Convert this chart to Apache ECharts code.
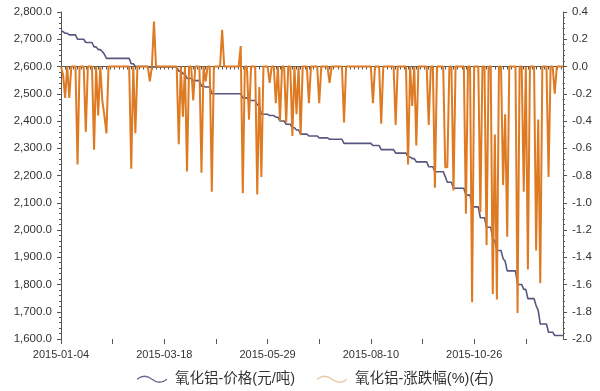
<!DOCTYPE html>
<html>
<head>
<meta charset="utf-8">
<script src="https://cdn.jsdelivr.net/npm/echarts@6/dist/echarts.min.js"></script>
<style>html,body{margin:0;padding:0;background:#fff;}#c{width:600px;height:391px;}</style>
</head>
<body>
<div id="c"></div>
<script>
// Chinese working days 2015-01-04 .. 2015-12-24
const dates = [
'2015-01-04','2015-01-05','2015-01-06','2015-01-07','2015-01-08','2015-01-09','2015-01-12','2015-01-13','2015-01-14','2015-01-15','2015-01-16','2015-01-19','2015-01-20','2015-01-21','2015-01-22','2015-01-23','2015-01-26','2015-01-27','2015-01-28','2015-01-29','2015-01-30',
'2015-02-02','2015-02-03','2015-02-04','2015-02-05','2015-02-06','2015-02-09','2015-02-10','2015-02-11','2015-02-12','2015-02-13','2015-02-15','2015-02-16','2015-02-17','2015-02-25','2015-02-26','2015-02-27','2015-02-28',
'2015-03-02','2015-03-03','2015-03-04','2015-03-05','2015-03-06','2015-03-09','2015-03-10','2015-03-11','2015-03-12','2015-03-13','2015-03-16','2015-03-17','2015-03-18','2015-03-19','2015-03-20','2015-03-23','2015-03-24','2015-03-25','2015-03-26','2015-03-27','2015-03-30','2015-03-31',
'2015-04-01','2015-04-02','2015-04-03','2015-04-07','2015-04-08','2015-04-09','2015-04-10','2015-04-13','2015-04-14','2015-04-15','2015-04-16','2015-04-17','2015-04-20','2015-04-21','2015-04-22','2015-04-23','2015-04-24','2015-04-27','2015-04-28','2015-04-29','2015-04-30',
'2015-05-04','2015-05-05','2015-05-06','2015-05-07','2015-05-08','2015-05-11','2015-05-12','2015-05-13','2015-05-14','2015-05-15','2015-05-18','2015-05-19','2015-05-20','2015-05-21','2015-05-22','2015-05-25','2015-05-26','2015-05-27','2015-05-28','2015-05-29',
'2015-06-01','2015-06-02','2015-06-03','2015-06-04','2015-06-05','2015-06-08','2015-06-09','2015-06-10','2015-06-11','2015-06-12','2015-06-15','2015-06-16','2015-06-17','2015-06-18','2015-06-19','2015-06-23','2015-06-24','2015-06-25','2015-06-26','2015-06-29','2015-06-30',
'2015-07-01','2015-07-02','2015-07-03','2015-07-06','2015-07-07','2015-07-08','2015-07-09','2015-07-10','2015-07-13','2015-07-14','2015-07-15','2015-07-16','2015-07-17','2015-07-20','2015-07-21','2015-07-22','2015-07-23','2015-07-24','2015-07-27','2015-07-28','2015-07-29','2015-07-30','2015-07-31',
'2015-08-03','2015-08-04','2015-08-05','2015-08-06','2015-08-07','2015-08-10','2015-08-11','2015-08-12','2015-08-13','2015-08-14','2015-08-17','2015-08-18','2015-08-19','2015-08-20','2015-08-21','2015-08-24','2015-08-25','2015-08-26','2015-08-27','2015-08-28','2015-08-31',
'2015-09-01','2015-09-02','2015-09-06','2015-09-07','2015-09-08','2015-09-09','2015-09-10','2015-09-11','2015-09-14','2015-09-15','2015-09-16','2015-09-17','2015-09-18','2015-09-21','2015-09-22','2015-09-23','2015-09-24','2015-09-25','2015-09-28','2015-09-29','2015-09-30',
'2015-10-08','2015-10-09','2015-10-10','2015-10-12','2015-10-13','2015-10-14','2015-10-15','2015-10-16','2015-10-19','2015-10-20','2015-10-21','2015-10-22','2015-10-23','2015-10-26','2015-10-27','2015-10-28','2015-10-29','2015-10-30',
'2015-11-02','2015-11-03','2015-11-04','2015-11-05','2015-11-06','2015-11-09','2015-11-10','2015-11-11','2015-11-12','2015-11-13','2015-11-16','2015-11-17','2015-11-18','2015-11-19','2015-11-20','2015-11-23','2015-11-24','2015-11-25','2015-11-26','2015-11-27','2015-11-30',
'2015-12-01','2015-12-02','2015-12-03','2015-12-04','2015-12-07','2015-12-08','2015-12-09','2015-12-10','2015-12-11','2015-12-14','2015-12-15','2015-12-16','2015-12-17','2015-12-18','2015-12-21','2015-12-22','2015-12-23','2015-12-24'
];

// 氧化铝-价格(元/吨)
const price = [
2730,2728,2722,2722,2716,2716,2716,2716,2700,2700,
2700,2700,2688,2688,2688,2688,2672,2672,2662,2662,
2655,2645,2630,2630,2630,2630,2630,2630,2630,2630,
2630,2630,2630,2630,2610,2610,2600,2600,2600,2600,
2600,2600,2600,2597,2597,2598,2598,2598,2598,2598,
2598,2598,2598,2598,2598,2598,2598,2583,2583,2574,
2574,2556,2556,2556,2548,2548,2548,2548,2528,2528,
2525,2525,2525,2500,2500,2500,2500,2500,2500,2500,
2500,2500,2500,2500,2500,2500,2500,2500,2485,2485,
2485,2475,2475,2475,2475,2460,2455,2425,2425,2425,
2425,2420,2420,2420,2414,2414,2400,2400,2400,2388,
2388,2388,2375,2375,2367,2367,2352,2352,2352,2352,
2345,2345,2345,2345,2345,2338,2338,2338,2338,2338,
2333,2333,2333,2333,2333,2333,2333,2318,2318,2318,
2318,2318,2318,2318,2318,2318,2318,2318,2318,2318,
2318,2310,2310,2310,2310,2295,2295,2295,2295,2295,
2295,2295,2282,2282,2282,2282,2282,2282,2268,2268,
2262,2262,2250,2250,2250,2250,2250,2250,2232,2232,
2232,2214,2214,2214,2214,2214,2196,2175,2175,2175,
2153,2153,2153,2153,2153,2153,2128,2128,2128,2085,
2085,2085,2085,2045,2045,2045,2010,2010,2010,1970,
1960,1925,1925,1925,1895,1885,1850,1850,1850,1850,
1850,1800,1800,1800,1782,1782,1748,1748,1748,1748,
1722,1705,1655,1655,1655,1655,1625,1625,1625,1613,
1613,1613,1613,1613
];

// 氧化铝-涨跌幅(%)
const change = [
0,-0.06,-0.23,0,-0.23,0,0,0,-0.72,0,
0,0,-0.48,0,0,0,-0.61,0,-0.36,0,
-0.25,-0.36,-0.49,0,0,0,0,0,0,0,
0,0,0,0,-0.75,0,-0.49,0,0,0,
0,0,0,-0.11,0,0.33,0,0,0,0,
0,0,0,0,0,0,0,-0.57,0,-0.37,
0,-0.77,0,0,-0.25,0,0,0,-0.78,0,
-0.11,0,0,-0.92,0,0,0,0,0.27,0,
0,0,0,0,0,0,0,0.15,-0.93,0,
0,-0.39,0,0,0,-0.94,-0.15,-0.81,0,0,
0,-0.12,0,0,-0.27,0,-0.40,0,0,-0.41,
0,0,-0.51,0,-0.35,0,-0.50,0,0,0,
-0.27,0,0,0,0,-0.27,0,0,0,0,
-0.12,0,0,0,0,0,0,-0.41,0,0,
0,0,0,0,0,0,0,0,0,0,
0,-0.27,0,0,0,-0.42,0,0,0,0,
0,0,-0.43,0,0,0,0,0,-0.72,0,
-0.29,0,-0.58,0,0,0,0,0,-0.43,0,
0,-0.89,0,0,0,0,-0.74,-0.74,0,0,
-0.91,0,0,0,0,0,-1.08,0,0,-1.73,
0,0,0,-1.07,0,0,-1.31,0,0,-1.67,
-0.50,-1.71,0,0,-0.87,-0.35,-1.25,0,0,0,
0,-1.81,0,0,-0.92,0,-1.49,0,0,0,
-1.35,-0.39,-1.59,0,0,0,-0.81,0,0,-0.20,
0,0,0,0
];

const seriesNames = ['氧化铝-价格(元/吨)', '氧化铝-涨跌幅(%)(右)'];

const wave = 'path://M0,6 Q7.5,0 15,6 Q22.5,12 30,6 L30,7.6 Q22.5,13.6 15,7.6 Q7.5,1.6 0,7.6 Z';
const axisColor = '#555';
const labelColor = '#333';
const font = 'Arial, "Liberation Sans", "Noto Sans CJK SC", sans-serif';

const chart = echarts.init(document.getElementById('c'), null, {renderer: 'canvas'});
chart.setOption({
  animation: false,
  backgroundColor: '#fff',
  textStyle: {fontFamily: font},
  grid: {left: 61, right: 37, top: 12, bottom: 52, containLabel: false},
  legend: {
    left: 132, top: 367,
    itemWidth: 30, itemHeight: 9, itemGap: 22,
    textStyle: {fontSize: 14.5, color: labelColor, fontFamily: font, padding: [0, 0, 0, 3]},
    data: [
      {name: seriesNames[0], icon: wave, itemStyle: {color: '#6a6a90'}},
      {name: seriesNames[1], icon: wave, itemStyle: {color: '#e9c6a2'}}
    ]
  },
  xAxis: [{
    type: 'category', data: dates, boundaryGap: false,
    axisLine: {show: true, lineStyle: {color: axisColor, width: 1}},
    axisTick: {show: true, interval: 1, length: 3, lineStyle: {color: axisColor}},
    axisLabel: {interval: 49, color: labelColor, fontSize: 11, margin: 10, fontFamily: font},
    splitLine: {show: false}
  }, {
    type: 'category', data: dates, boundaryGap: false, position: 'bottom',
    axisLine: {show: false},
    axisTick: {show: true, interval: 24, length: 5, lineStyle: {color: axisColor}},
    axisLabel: {show: false},
    splitLine: {show: false}
  }],
  yAxis: [{
    type: 'value', position: 'left', min: 1600, max: 2800, interval: 100,
    axisLine: {show: true, lineStyle: {color: axisColor}},
    axisTick: {show: true, length: 4, lineStyle: {color: axisColor}},
    minorTick: {show: true, splitNumber: 5, length: 2, lineStyle: {color: axisColor}},
    axisLabel: {color: labelColor, fontSize: 11.5, margin: 9, fontFamily: font,
      formatter: v => v.toLocaleString('en-US', {minimumFractionDigits: 1, maximumFractionDigits: 1})},
    splitLine: {show: false}
  }, {
    type: 'value', position: 'right', min: -2.0, max: 0.4, interval: 0.2,
    axisLine: {show: true, lineStyle: {color: axisColor}},
    axisTick: {show: true, length: 4, lineStyle: {color: axisColor}},
    minorTick: {show: true, splitNumber: 5, length: 2, lineStyle: {color: axisColor}},
    axisLabel: {color: labelColor, fontSize: 11.5, margin: 9, fontFamily: font,
      formatter: v => (Math.abs(v) < 1e-9 ? '0.0' : v.toFixed(1))},
    splitLine: {show: false}
  }],
  series: [{
    name: seriesNames[0], type: 'line', yAxisIndex: 0, data: price,
    showSymbol: false, symbol: 'none',
    lineStyle: {color: '#57567f', width: 1.6}, itemStyle: {color: '#57567f'}
  }, {
    name: seriesNames[1], type: 'line', yAxisIndex: 1, data: change,
    showSymbol: false, symbol: 'none',
    lineStyle: {color: '#de7a22', width: 2}, itemStyle: {color: '#de7a22'}
  }]
});
</script>
</body>
</html>
